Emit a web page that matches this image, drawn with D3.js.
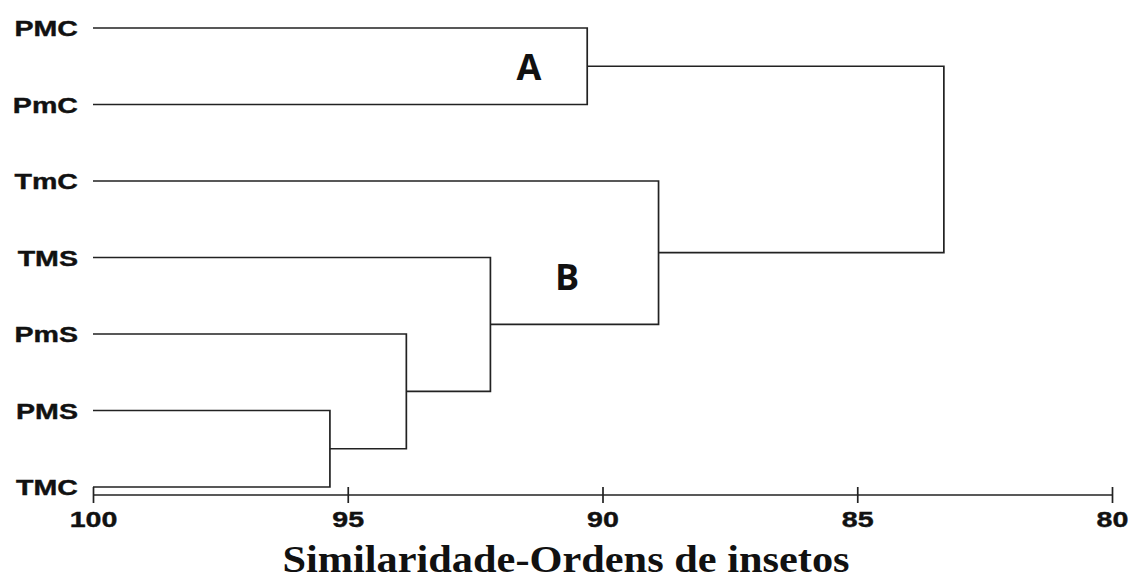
<!DOCTYPE html>
<html>
<head>
<meta charset="utf-8">
<script src="https://cdn.jsdelivr.net/npm/d3@7"></script>
<style>
  body { margin: 0; background: #fff; }
  svg { display: block; }
  .link { fill: none; stroke: #222; stroke-width: 1.7; }
  .leaf-label { font-family: "Liberation Sans", Arial, sans-serif; font-weight: bold; font-size: 22px; fill: #111; stroke: #111; stroke-width: 0.4; }
  .axis path, .axis line { stroke: #222; stroke-width: 1.7; }
  .axis text { font-family: "Liberation Sans", Arial, sans-serif; font-weight: bold; font-size: 22px; fill: #111; stroke: #111; stroke-width: 0.4; }
  .group-label { font-family: "Open Sans", "Noto Sans", sans-serif; font-weight: bold; font-size: 36px; fill: #111; }
  .title { font-family: "Liberation Serif", "Times New Roman", serif; font-weight: bold; font-size: 37.5px; fill: #111; }
</style>
</head>
<body>
<div id="svg-area"></div>
<script>
// leaves, top to bottom
var leaves = ["PMC", "PmC", "TmC", "TMS", "PmS", "PMS", "TMC"];

// merges of the tree (similarity level where the two children join)
var mergeIds = ["m1", "m2", "m3", "m4", "m5", "m6"];
var mergeChildren = [["PMC", "PmC"], ["PMS", "TMC"], ["PmS", "m2"], ["TMS", "m3"], ["TmC", "m4"], ["m1", "m5"]];
var mergeSim = [90.3, 95.35, 93.85, 92.2, 88.9, 83.3];

var tickValues = [100, 95, 90, 85, 80];
var groupNames = ["A", "B"];

var svgWidth = 1132;
var svgHeight = 581;

var svg = d3.select("#svg-area")
    .append("svg")
    .attr("width", svgWidth)
    .attr("height", svgHeight)
;

var xScale = d3.scaleLinear()
    .domain([100, 80])
    .range([93, 1112])
;

var yScale = d3.scalePoint()
    .domain(leaves)
    .range([28, 487])
;

// node positions
var pos = {};
leaves.forEach(function(name) {
    pos[name] = { x: xScale(100), y: yScale(name) };
});
mergeIds.forEach(function(id, i) {
    var a = pos[mergeChildren[i][0]];
    var b = pos[mergeChildren[i][1]];
    pos[id] = { x: xScale(mergeSim[i]), y: (a.y + b.y) / 2 };
});

// draw elbows
var links = svg.append("g");
mergeIds.forEach(function(id, i) {
    var p = pos[id];
    var a = pos[mergeChildren[i][0]];
    var b = pos[mergeChildren[i][1]];
    var path = d3.path();
    path.moveTo(a.x, a.y);
    path.lineTo(p.x, a.y);
    path.lineTo(p.x, b.y);
    path.lineTo(b.x, b.y);
    links.append("path")
        .attr("class", "link")
        .attr("d", path.toString())
    ;
});

// leaf labels (stretched horizontally like the original)
svg.append("g")
    .selectAll("text")
    .data(leaves)
    .enter()
    .append("text")
    .attr("class", "leaf-label")
    .attr("text-anchor", "end")
    .attr("transform", d => `translate(78, ${yScale(d) + 8}) scale(1.3, 1)`)
    .text(d => d)
;

// x axis
var axisG = svg.append("g")
    .attr("class", "axis")
    .attr("transform", "translate(0, 495)")
    .call(d3.axisBottom(xScale)
        .tickValues(tickValues)
        .tickSizeInner(8)
        .tickSizeOuter(0)
        .tickFormat(d3.format("d"))
    )
;
axisG.select(".domain").attr("d", `M${xScale(100)},0H${xScale(80)}`);
axisG.selectAll(".tick line").attr("y1", -8).attr("y2", 8);
axisG.selectAll(".tick text")
    .attr("y", 0)
    .attr("dy", 0)
    .attr("transform", "translate(0, 32) scale(1.3, 1)")
;

// group letters
svg.append("g")
    .selectAll("text")
    .data(groupNames)
    .enter()
    .append("text")
    .attr("class", "group-label")
    .attr("text-anchor", "middle")
    .attr("x", (d, i) => i === 0 ? 529 : 567)
    .attr("y", (d, i) => i === 0 ? 80 : 290)
    .text(d => d)
;

// title
svg.append("text")
    .attr("class", "title")
    .attr("text-anchor", "middle")
    .attr("transform", "translate(566, 572) scale(1.13, 1)")
    .text("Similaridade-Ordens de insetos")
;
</script>
</body>
</html>
